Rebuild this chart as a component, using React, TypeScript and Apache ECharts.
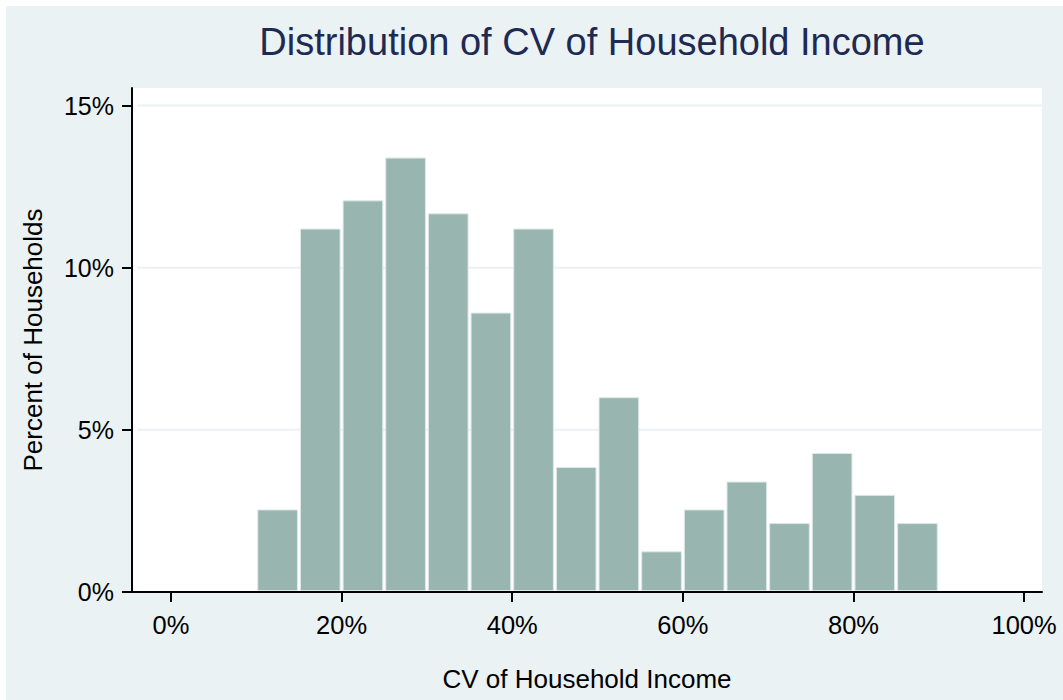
import React, { useEffect, useRef } from "react";
import * as echarts from "echarts";

const binStarts = [10, 15, 20, 25, 30, 35, 40, 45, 50, 55, 60, 65, 70, 75, 80, 85];
const binWidth = 5;
const percents = [2.53, 11.19, 12.06, 13.38, 11.66, 8.6, 11.19, 3.84, 5.99, 1.24, 2.53, 3.39, 2.11, 4.27, 2.98, 2.11];
const xTicks = [0, 20, 40, 60, 80, 100];
const yTicks = [0, 5, 10, 15];

const FONT = "'Liberation Sans', Arial, sans-serif";

export default function App() {
  const ref = useRef<HTMLDivElement>(null);
  useEffect(() => {
    if (!ref.current) return;
    const chart = echarts.init(ref.current, undefined, { renderer: "svg" });
    const barData = binStarts.map((s, i) => [s, s + binWidth, percents[i]]);
    const gridData = yTicks.filter((v) => v > 0).map((v) => [v]);
    chart.setOption({
      animation: false,
      backgroundColor: "#eaf2f3",
      title: {
        text: "Distribution of CV of Household Income",
        left: 581,
        top: 12,
        textAlign: "center",
        textStyle: { fontFamily: FONT, fontSize: 38, fontWeight: "normal", color: "#1e2a52" },
      },
      grid: {
        left: 126,
        right: 21,
        top: 82,
        bottom: 108,
        show: true,
        backgroundColor: "#ffffff",
        borderWidth: 0,
      },
      xAxis: {
        type: "value",
        min: -4.57,
        max: 102.1,
        name: "CV of Household Income",
        nameLocation: "middle",
        nameGap: 74,
        nameTextStyle: { fontFamily: FONT, fontSize: 26, color: "#000" },
        axisLine: { show: true, onZero: false, lineStyle: { color: "#000", width: 2 } },
        axisTick: { show: true, length: 10, customValues: xTicks, lineStyle: { color: "#000", width: 2 } },
        axisLabel: {
          customValues: xTicks,
          formatter: "{value}%",
          margin: 20,
          fontFamily: FONT,
          fontSize: 25.5,
          color: "#000",
        },
        splitLine: { show: false },
      },
      yAxis: {
        type: "value",
        min: 0,
        max: 15.54,
        name: "Percent of Households",
        nameLocation: "middle",
        nameGap: 86,
        nameTextStyle: { fontFamily: FONT, fontSize: 26, color: "#000" },
        axisLine: { show: true, onZero: false, lineStyle: { color: "#000", width: 2 } },
        axisTick: { show: true, length: 10, customValues: yTicks, lineStyle: { color: "#000", width: 2 } },
        axisLabel: {
          customValues: yTicks,
          formatter: "{value}%",
          margin: 18,
          fontFamily: FONT,
          fontSize: 25,
          color: "#000",
        },
        splitLine: { show: false },
      },
      series: [
        {
          type: "custom",
          z: 1,
          silent: true,
          data: gridData,
          encode: { y: 0 },
          renderItem: (params: any, api: any) => {
            const cs = params.coordSys;
            const y = api.coord([0, api.value(0)])[1];
            return {
              type: "line",
              shape: { x1: cs.x + 5, y1: y, x2: cs.x + cs.width, y2: y },
              style: { stroke: "#eaf2f3", lineWidth: 2 },
            };
          },
        },
        {
          type: "custom",
          z: 2,
          data: barData,
          encode: { x: [0, 1], y: 2 },
          renderItem: (params: any, api: any) => {
            const p0 = api.coord([api.value(0), api.value(2)]);
            const p1 = api.coord([api.value(1), 0]);
            return {
              type: "rect",
              shape: {
                x: p0[0] + 1.5,
                y: p0[1],
                width: p1[0] - p0[0] - 3,
                height: p1[1] - p0[1] - 1.5,
              },
              style: { fill: "#98b5af", stroke: "#dde8e6", lineWidth: 1 },
            };
          },
        },
      ],
    });
    return () => chart.dispose();
  }, []);
  return (
    <div style={{ position: "fixed", left: 0, top: 0, width: 1063, height: 700, background: "#ffffff" }}>
      <div ref={ref} style={{ position: "absolute", left: 6, top: 6, width: 1057, height: 694 }} />
    </div>
  );
}
